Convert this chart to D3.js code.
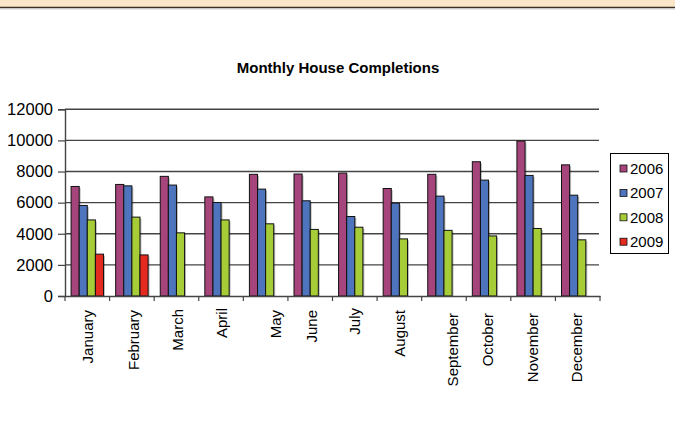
<!DOCTYPE html>
<html>
<head>
<meta charset="utf-8">
<script src="https://cdn.jsdelivr.net/npm/d3@7"></script>
<style>
  html, body { margin: 0; padding: 0; background: #fff; }
  svg { display: block; font-family: "Liberation Sans", Arial, sans-serif; }
</style>
</head>
<body>
<svg id="chart" width="675" height="423"></svg>
<script>
// ---- data ----
const months = ["January","February","March","April","May","June","July","August","September","October","November","December"];
const years = ["2006","2007","2008","2009"];
const values2006 = [7040, 7170, 7690, 6370, 7820, 7840, 7900, 6910, 7820, 8630, 9960, 8430];
const values2007 = [5820, 7080, 7130, 6010, 6870, 6120, 5110, 5970, 6420, 7450, 7750, 6480];
const values2008 = [4890, 5070, 4060, 4890, 4640, 4280, 4420, 3670, 4220, 3860, 4340, 3610];
const values2009 = [2690, 2640, null, null, null, null, null, null, null, null, null, null];
const yTicks = [0, 2000, 4000, 6000, 8000, 10000, 12000];

const seriesValues = [values2006, values2007, values2008, values2009];
const colors = ["#A5457B", "#4D74BC", "#A6CC37", "#E52A20"];

// ---- layout (label placement quirks of the original) ----
const labelDx = [1, 2, 1.8, 0.6, 10, 1.4, 0, 0.5, 9, -0.4, 0, -1.2];
const labelTop = [310, 310, 309, 308, 310, 310, 308, 310, 313, 313, 313, 313];

const svg = d3.select("#chart");

// top banner
svg.append("rect").attr("x", 0).attr("y", 0).attr("width", 675).attr("height", 7).attr("fill", "#FAE6C8");
svg.append("line").attr("x1", 0).attr("x2", 675).attr("y1", 7.3).attr("y2", 7.3).attr("stroke", "#3b3326").attr("stroke-width", 1.2);
svg.append("line").attr("x1", 0).attr("x2", 675).attr("y1", 8.8).attr("y2", 8.8).attr("stroke", "#9a9a9a").attr("stroke-width", 0.8);

const plotLeft = 65, plotRight = 600, plotTop = 109.3, plotBottom = 296;

const x0 = d3.scaleBand().domain(months).range([plotLeft, plotRight]).padding(0);
const x1 = d3.scaleBand().domain(years).range([0, x0.bandwidth()]).paddingInner(0).paddingOuter(0.75);
const y = d3.scaleLinear().domain([0, 12000]).range([plotBottom, plotTop]);

// title
svg.append("text").attr("x", 338).attr("y", 72.5).attr("text-anchor", "middle")
  .attr("font-weight", "bold").attr("font-size", 15).attr("fill", "#000")
  .text("Monthly House Completions");

// gridlines
svg.append("g").selectAll("line").data(yTicks.filter(d => d > 0)).join("line")
  .attr("x1", plotLeft).attr("x2", plotRight - 1)
  .attr("y1", d => y(d)).attr("y2", d => y(d))
  .attr("stroke", "#444").attr("stroke-width", 1.4);

// y axis
const yAxis = d3.axisLeft(y).tickValues(yTicks).tickSize(7).tickPadding(5).tickFormat(d3.format("d"));
const gy = svg.append("g").attr("transform", `translate(${plotLeft},0)`).call(yAxis);
gy.select(".domain").attr("stroke", "#444").attr("stroke-width", 1.4);
gy.selectAll(".tick line").attr("stroke", "#444").attr("stroke-width", 1.2);
gy.selectAll(".tick text").attr("font-size", 16.5).attr("fill", "#000")
  .attr("font-family", "'Liberation Sans', Arial, sans-serif");

// bars
const groups = svg.append("g").selectAll("g").data(months).join("g")
  .attr("transform", d => `translate(${x0(d)},0)`);

const barData = (m, i) => years.map((yr, s) => ({ yr, s, v: seriesValues[s][i] })).filter(d => d.v != null);

// shadows
groups.selectAll("rect.shadow").data((m, i) => barData(m, i)).join("rect")
  .attr("class", "shadow")
  .attr("x", d => x1(d.yr) + 1.5).attr("y", d => y(d.v) + 1.5)
  .attr("width", x1.bandwidth()).attr("height", d => y(0) - y(d.v) - 1.5)
  .attr("fill", "#000").attr("opacity", 0.25);

groups.selectAll("rect.bar").data((m, i) => barData(m, i)).join("rect")
  .attr("class", "bar")
  .attr("x", d => x1(d.yr)).attr("y", d => y(d.v))
  .attr("width", x1.bandwidth()).attr("height", d => y(0) - y(d.v))
  .attr("fill", d => colors[d.s]).attr("stroke", "#111").attr("stroke-width", 1);

// x axis
const xAxis = d3.axisBottom(x0).tickSize(0).tickFormat("");
const gx = svg.append("g").attr("transform", `translate(0,${plotBottom})`).call(xAxis);
gx.select(".domain").attr("stroke", "#444").attr("stroke-width", 1.4);
svg.append("g").selectAll("line").data(months.concat(["_end"])).join("line")
  .attr("x1", (d, i) => plotLeft + i * x0.step()).attr("x2", (d, i) => plotLeft + i * x0.step())
  .attr("y1", plotBottom).attr("y2", plotBottom + 5)
  .attr("stroke", "#444").attr("stroke-width", 1.2);

// month labels
svg.append("g").selectAll("text").data(months).join("text")
  .attr("transform", (d, i) => `translate(${x0(d) + x0.bandwidth() / 2 + labelDx[i] + 5.2},${labelTop[i]}) rotate(-90)`)
  .attr("text-anchor", "end").attr("font-size", 15).attr("fill", "#000")
  .text(d => d);

// legend
const lg = svg.append("g");
lg.append("rect").attr("x", 610.5).attr("y", 153.5).attr("width", 58).attr("height", 100)
  .attr("fill", "#fff").attr("stroke", "#000").attr("stroke-width", 1);
const items = lg.selectAll("g.item").data(years).join("g").attr("class", "item")
  .attr("transform", (d, i) => `translate(620,${168.5 + i * 24.4})`);
items.append("rect").attr("x", 0).attr("y", -3.5).attr("width", 7).attr("height", 7)
  .attr("fill", (d, i) => colors[i]).attr("stroke", "#111").attr("stroke-width", 0.8);
items.append("text").attr("x", 10).attr("y", 5.3).attr("font-size", 15).attr("fill", "#000").text(d => d);
</script>
</body>
</html>
